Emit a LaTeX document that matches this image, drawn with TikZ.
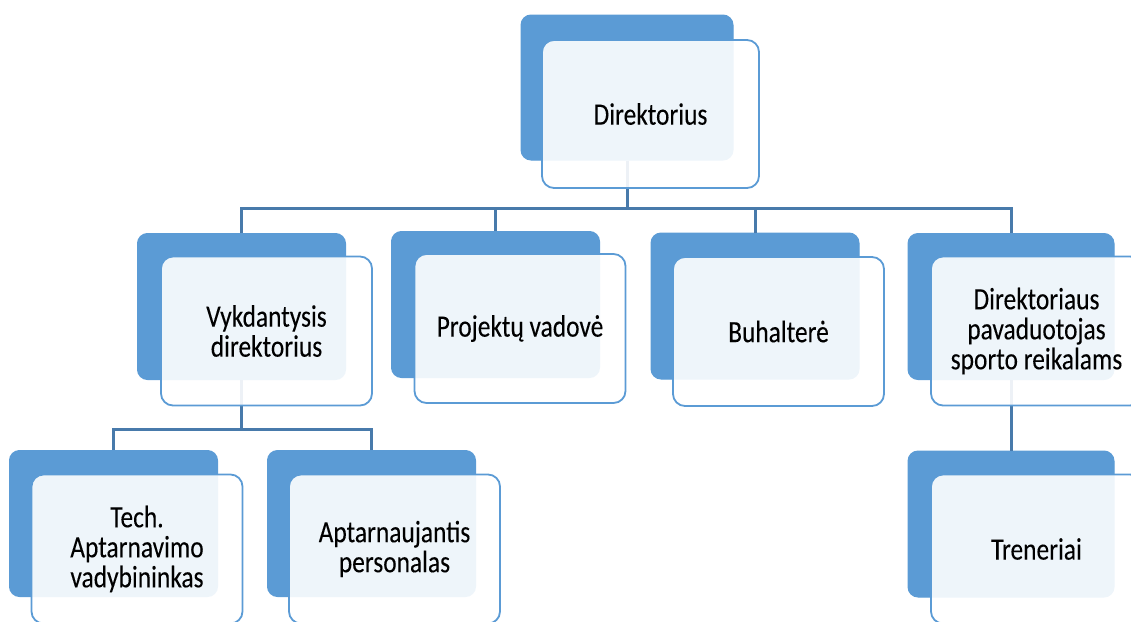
\documentclass[tikz,border=0pt]{standalone}
\usepackage{fontspec}
\setmainfont{Carlito}[FakeStretch=0.82,FakeBold=0.1]
\definecolor{boxblue}{RGB}{91,155,213}
\definecolor{linkblue}{RGB}{72,122,171}
\tikzset{
  backbox/.style={draw=boxblue, fill=boxblue, line width=1pt, rounded corners=10pt,
    minimum width=208pt, minimum height=146pt, inner sep=0pt},
  frontbox/.style={draw=boxblue, fill=white, fill opacity=0.9, text opacity=1,
    line width=1.8pt, rounded corners=12pt, minimum width=211pt, minimum height=149pt,
    inner sep=0pt, align=center, text=black,
    font=\fontsize{31}{30}\selectfont},
  link/.style={draw=linkblue, line width=3pt}
}
\begin{document}
\begin{tikzpicture}[x=1pt,y=-1pt]
\useasboundingbox (0,0) rectangle (1131,621);
\clip (0,0) rectangle (1131,621);
% back boxes
\node[backbox, minimum width=212pt, minimum height=145pt] (b0) at (627,87.5) {};
\node[backbox] (b1) at (241.5,306.5) {};
\node[backbox] (b2) at (495.5,304.5) {};
\node[backbox] (b3) at (755,306) {};
\node[backbox, minimum width=206pt] (b4) at (1011,306.5) {};
\node[backbox] (b5) at (113.5,523.5) {};
\node[backbox] (b6) at (371.5,523.5) {};
\node[backbox, minimum width=206pt] (b7) at (1011,524) {};
% connectors
\coordinate (j0) at (627,208);
\coordinate (j1) at (241.5,429);
\draw[link] (b0.south) -- (j0);
\draw[link] (b1.north) |- (j0);
\draw[link] (b2.north) |- (j0);
\draw[link] (b3.north) |- (j0);
\draw[link] (b4.north) |- (j0);
\draw[link] (b1.south) -- (j1);
\draw[link] (b5.north) |- (j1);
\draw[link] (b6.north) |- (j1);
\draw[link] (b4.south) -- (b7.north);
% front boxes
\node[frontbox, minimum width=217pt, minimum height=148pt] (f0) at (650.5,114) {Direktorius};
\node[frontbox] (f1) at (266.5,331) {Vykdantysis\\direktorius};
\node[frontbox] (f2) at (520,328.5) {Projektų vadovė};
\node[frontbox] (f3) at (778.5,331.5) {Buhalterė};
\node[frontbox] (f4) at (1036.5,331) {Direktoriaus\\pavaduotojas\\sporto reikalams};
\node[frontbox] (f5) at (137,549) {Tech.\\Aptarnavimo\\vadybininkas};
\node[frontbox] (f6) at (394.5,549) {Aptarnaujantis\\personalas};
\node[frontbox] (f7) at (1036.5,549) {Treneriai};
\end{tikzpicture}
\end{document}
